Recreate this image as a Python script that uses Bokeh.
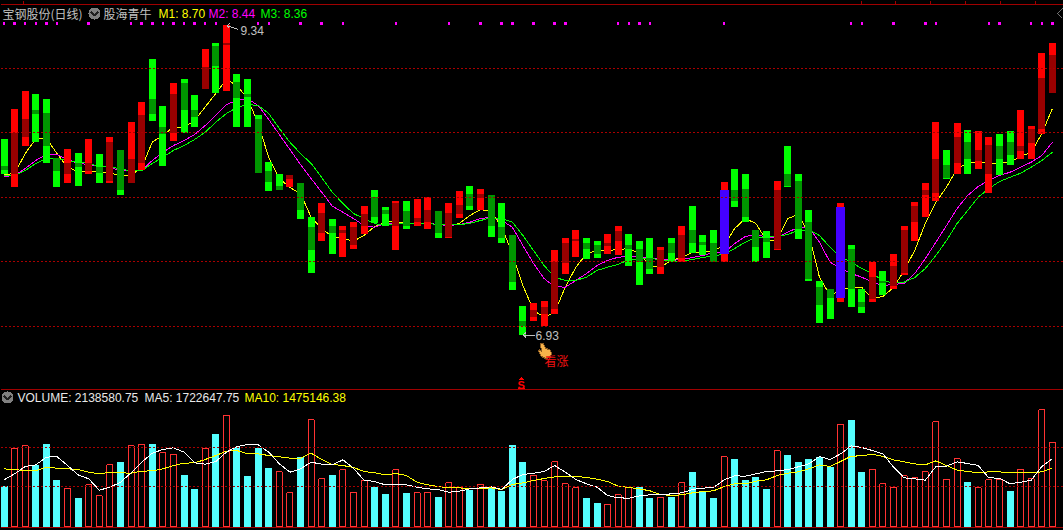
from bokeh.embed import file_html
from bokeh.resources import INLINE
from bokeh.plotting import figure
from bokeh.layouts import column
from bokeh.models import Range1d, Span, Label, ColumnDataSource

# ---------- data ----------
bar_kind = list("GRRGGGRGRG" "RGRRGGRGGR" "GRGGGGGRGG" "RGRRRGGRGR" "RGRRGRGGGG"
                "RRRRRGGRRG" "GGRGRGGGBG" "GGGRGGGGGB" "GGRGRRRRRG" "RGRRGGRRRR")
vol_kind = list("CHHCCCHCHH" "HCHHCHHCCH" "CHCCCCHHCH" "HCHHHCCHCH" "HCHHCHCCCC"
                "HHHHHCCHHH" "CCHCHCCCHC" "CCCHCCCCCH" "CCHHHHHHHH" "HCHHHCHHHH")

bar_top = [8.449,8.689,8.821,8.798,8.759,8.309,8.379,8.348,8.449,8.333,
           8.472,8.364,8.581,8.743,9.069,8.705,8.883,8.914,8.790,9.154,
           9.193,9.340,8.953,8.921,8.635,8.278,8.185,8.170,8.115,7.852,
           7.953,7.836,7.775,7.806,7.930,8.061,7.922,7.976,7.976,7.984,
           8.000,7.891,7.953,8.046,8.085,8.069,8.015,7.953,7.705,7.162,
           7.178,7.201,7.596,7.689,7.751,7.682,7.666,7.713,7.782,7.713,
           7.666,7.682,7.612,7.682,7.775,7.930,7.705,7.744,8.123,8.224,
           8.185,7.744,7.736,8.131,8.395,8.185,7.906,7.356,7.294,7.953,
           7.635,7.294,7.503,7.433,7.565,7.782,7.961,8.115,8.581,8.371,
           8.573,8.519,8.511,8.472,8.495,8.511,8.681,8.550,9.123,9.200]
band_top = [8.240,8.503,8.611,8.674,8.658,8.309,8.263,8.263,8.270,8.232,
            8.426,8.364,8.294,8.642,8.759,8.542,8.798,8.883,8.674,9.007,
            9.170,9.193,8.898,8.798,8.604,8.208,8.092,8.170,8.115,7.767,
            7.883,7.775,7.744,7.767,7.875,8.000,7.906,7.953,7.891,7.844,
            7.906,7.891,7.883,7.945,8.023,8.023,8.015,7.767,7.705,7.046,
            7.124,7.154,7.496,7.643,7.674,7.643,7.635,7.643,7.736,7.635,
            7.604,7.534,7.596,7.643,7.705,7.751,7.658,7.643,8.054,8.061,
            8.069,7.744,7.689,8.061,8.185,8.131,7.806,7.302,7.294,7.922,
            7.604,7.193,7.387,7.356,7.465,7.751,7.930,8.054,8.294,8.255,
            8.472,8.433,8.364,8.410,8.395,8.433,8.402,8.534,8.929,9.100]
band_bot = [8.216,8.185,8.472,8.650,8.395,8.201,8.185,8.232,8.201,8.193,
            8.131,8.061,8.115,8.263,8.650,8.495,8.503,8.681,8.627,8.844,
            9.022,9.185,8.774,8.782,8.193,8.123,8.054,8.146,7.899,7.589,
            7.728,7.728,7.728,7.635,7.775,7.852,7.875,7.775,7.775,7.813,
            7.806,7.728,7.697,7.875,7.937,7.992,7.775,7.682,7.348,7.000,
            7.077,7.100,7.139,7.488,7.666,7.604,7.565,7.627,7.666,7.604,
            7.496,7.449,7.457,7.573,7.534,7.643,7.635,7.503,7.565,7.976,
            7.852,7.612,7.658,7.604,8.085,7.759,7.364,7.170,7.224,7.224,
            7.294,7.154,7.209,7.333,7.317,7.418,7.806,8.015,8.038,8.154,
            8.263,8.294,8.286,8.185,8.294,8.325,8.356,8.418,8.534,8.813]
bar_bot = [8.185,8.077,8.402,8.426,8.270,8.077,8.115,8.092,8.185,8.115,
           8.108,8.015,8.115,8.216,8.596,8.247,8.441,8.503,8.542,8.844,
           8.813,8.821,8.542,8.542,8.193,8.046,8.054,8.077,7.836,7.418,
           7.666,7.565,7.542,7.604,7.713,7.798,7.775,7.589,7.759,7.782,
           7.759,7.682,7.682,7.844,7.906,7.899,7.697,7.643,7.279,6.930,
           7.046,7.007,7.100,7.403,7.542,7.526,7.534,7.565,7.557,7.472,
           7.325,7.403,7.403,7.496,7.503,7.573,7.557,7.503,7.503,7.922,
           7.806,7.496,7.534,7.589,8.077,7.674,7.356,7.023,7.054,7.186,
           7.147,7.108,7.186,7.240,7.294,7.395,7.666,7.852,7.976,8.146,
           8.185,8.185,8.224,8.038,8.177,8.255,8.294,8.294,8.495,8.813]

m1 = [8.177,8.185,8.340,8.453,8.457,8.340,8.232,8.201,8.197,8.201,
      8.189,8.170,8.170,8.232,8.429,8.480,8.546,8.542,8.596,8.701,
      8.805,8.914,8.867,8.766,8.573,8.309,8.146,8.077,8.030,7.847,
      7.759,7.697,7.682,7.661,7.705,7.775,7.808,7.813,7.798,7.798,
      7.798,7.790,7.782,7.798,7.860,7.906,7.891,7.769,7.565,7.317,
      7.124,7.072,7.110,7.304,7.459,7.563,7.589,7.589,7.596,7.604,
      7.565,7.472,7.459,7.511,7.534,7.575,7.575,7.589,7.627,7.759,
      7.836,7.798,7.666,7.666,7.836,7.868,7.720,7.382,7.240,7.279,
      7.304,7.302,7.217,7.232,7.302,7.434,7.589,7.798,7.963,8.079,
      8.224,8.263,8.278,8.265,8.263,8.273,8.317,8.350,8.495,8.689]
m2 = [8.162,8.170,8.224,8.286,8.333,8.333,8.294,8.263,8.255,8.242,
      8.234,8.203,8.208,8.208,8.286,8.350,8.402,8.441,8.487,8.557,
      8.635,8.720,8.751,8.766,8.712,8.604,8.487,8.371,8.255,8.146,
      8.040,7.932,7.885,7.836,7.782,7.769,7.798,7.798,7.795,7.798,
      7.800,7.790,7.782,7.790,7.808,7.836,7.847,7.821,7.769,7.627,
      7.488,7.371,7.309,7.304,7.356,7.410,7.472,7.511,7.537,7.542,
      7.542,7.526,7.526,7.511,7.519,7.534,7.550,7.573,7.573,7.643,
      7.697,7.713,7.692,7.692,7.730,7.767,7.767,7.653,7.498,7.449,
      7.410,7.382,7.343,7.317,7.325,7.335,7.410,7.526,7.653,7.782,
      7.914,8.015,8.085,8.131,8.170,8.195,8.234,8.273,8.325,8.428]
m3 = [8.170,8.170,8.208,8.263,8.301,8.301,8.286,8.273,8.263,8.240,
      8.234,8.224,8.203,8.208,8.263,8.312,8.364,8.402,8.449,8.505,
      8.583,8.650,8.697,8.720,8.712,8.650,8.534,8.428,8.340,8.263,
      8.154,8.040,7.953,7.875,7.836,7.798,7.782,7.798,7.798,7.798,
      7.798,7.790,7.790,7.788,7.800,7.821,7.842,7.836,7.808,7.705,
      7.589,7.472,7.382,7.356,7.356,7.382,7.434,7.459,7.480,7.519,
      7.524,7.526,7.519,7.506,7.506,7.519,7.534,7.550,7.557,7.604,
      7.653,7.689,7.692,7.697,7.713,7.744,7.749,7.705,7.614,7.537,
      7.498,7.449,7.410,7.356,7.335,7.343,7.379,7.449,7.550,7.666,
      7.798,7.899,8.002,8.069,8.123,8.156,8.188,8.234,8.286,8.350]

flag_days = [0,1,2,3,4,5,8,12,13,14,15,16,17,18,19,20,24,25,28,30,32,37,42,45,47,48,
             50,52,53,58,59,60,61,68,80,81,84,87,88,93,94,97,98,99]
price_grid = [7.0, 7.5, 8.0, 8.5, 9.0]

# volumes, in millions of shares
volume = [1.033,1.973,2.050,1.563,2.110,1.187,0.947,0.700,1.050,0.768,
          1.563,1.623,2.050,2.076,2.110,1.870,1.819,1.315,0.956,1.982,
          2.341,2.819,2.033,1.289,1.982,1.494,1.383,0.845,1.776,2.717,
          1.204,1.315,1.435,0.845,1.153,1.007,0.828,1.435,0.853,0.845,
          0.845,0.751,1.101,0.973,0.922,1.050,0.973,0.905,2.059,1.623,
          1.281,1.153,1.640,1.076,0.973,0.700,0.597,0.537,0.794,0.982,
          0.982,0.700,0.717,0.751,1.101,1.392,0.905,0.725,1.768,1.700,
          1.187,1.264,0.956,1.922,1.828,1.623,1.700,1.776,1.520,2.588,
          2.725,1.392,1.435,1.076,0.973,1.281,1.229,1.383,2.665,1.178,
          1.717,1.135,0.973,1.178,1.178,0.905,1.435,1.204,2.973,2.139]
ma5 = [1.178,1.332,1.520,1.563,1.759,1.776,1.546,1.306,1.204,0.913,
       0.990,1.118,1.358,1.631,1.862,1.956,1.999,1.888,1.614,1.580,
       1.648,1.888,2.033,2.084,2.076,1.888,1.588,1.375,1.460,1.631,
       1.580,1.563,1.691,1.477,1.170,1.135,1.050,1.050,1.050,0.990,
       0.947,0.930,0.862,0.888,0.947,0.973,0.999,0.930,1.187,1.315,
       1.349,1.392,1.546,1.375,1.187,1.076,0.990,0.776,0.717,0.708,
       0.768,0.794,0.794,0.819,0.845,0.930,0.965,0.982,1.178,1.281,
       1.272,1.332,1.392,1.409,1.443,1.512,1.588,1.776,1.700,1.845,
       2.050,2.007,1.930,1.845,1.503,1.229,1.204,1.170,1.520,1.529,
       1.640,1.597,1.546,1.229,1.221,1.076,1.118,1.170,1.520,1.723]
ma10 = [1.460,1.443,1.409,1.409,1.503,1.477,1.460,1.443,1.375,1.332,
        1.375,1.358,1.349,1.400,1.409,1.460,1.546,1.606,1.614,1.700,
        1.802,1.913,1.930,1.845,1.845,1.802,1.768,1.734,1.734,1.862,
        1.700,1.571,1.546,1.494,1.392,1.358,1.306,1.341,1.289,1.118,
        1.050,1.007,0.973,0.973,0.947,0.956,0.973,0.930,1.059,1.101,
        1.161,1.212,1.255,1.255,1.272,1.238,1.195,1.135,1.016,0.982,
        0.947,0.896,0.802,0.776,0.794,0.845,0.879,0.896,1.007,1.076,
        1.076,1.144,1.178,1.289,1.349,1.383,1.460,1.563,1.520,1.648,
        1.785,1.794,1.836,1.776,1.691,1.640,1.588,1.563,1.665,1.546,
        1.426,1.392,1.358,1.383,1.383,1.358,1.375,1.358,1.383,1.475]
volume_grid = [1.0, 2.0]

# ---------- layout ----------
W, H1, H2 = 1063, 390, 140
STEP, X0 = 10.59, 3.5
XR = Range1d(-X0 / STEP, (W - X0) / STEP)
days = list(range(len(bar_top)))

BG = "#000000"
RED, DRED = "#ff0000", "#990000"
GRN, DGRN = "#00ff00", "#009600"
BLUE = "#4400ff"
GRID = "#a80000"
FRAME = "#a00000"
GRAY = "#c0c0c0"
CJK = "Noto Sans CJK SC"
LATIN = "Liberation Sans"


def fig(h, yr):
    f = figure(width=W, height=h, x_range=XR, y_range=yr, output_backend="svg",
               toolbar_location=None, min_border=0, x_axis_location=None,
               y_axis_location=None, background_fill_color=BG, border_fill_color=BG,
               outline_line_color=None)
    f.grid.visible = False
    return f


p = fig(H1, Range1d(6.5035, 9.526))
v = fig(H2, Range1d(-0.1205, 3.469))


def xd(px):
    return (px - X0) / STEP


def yp(py):
    return 9.526 - 0.00775 * py


def label(f, h, x, y, text, color, font=LATIN, size="12px", style="normal"):
    f.add_layout(Label(x=x, y=h - y, x_units="screen", y_units="screen", text=text,
                       text_color=color, text_font=font, text_font_size=size,
                       text_baseline="middle", text_font_style=style))


# ---------- price pane ----------
for g in price_grid:
    p.add_layout(Span(location=g, dimension="width", line_color=GRID, line_width=1,
                      line_dash="2 2"))
p.line(days, m1, line_color="#ffff00", line_width=1)
p.line(days, m2, line_color="#ff00ff", line_width=1)
p.line(days, m3, line_color=GRN, line_width=1)

bright = [{"G": GRN}.get(k, RED) for k in bar_kind]
dark = [{"G": DGRN, "R": DRED}.get(k, BLUE) for k in bar_kind]
band_w = [9 / STEP if k == "B" else 7 / STEP for k in bar_kind]
src = ColumnDataSource(dict(x=days, t=bar_top, b=bar_bot, bt=band_top, bb=band_bot,
                            c=bright, d=dark, w=band_w))
p.vbar(x="x", top="t", bottom="b", width=7 / STEP, fill_color="c", line_color=None, source=src)
p.vbar(x="x", top="bt", bottom="bb", width="w", fill_color="d", line_color=None, source=src)

p.scatter(flag_days, [yp(23)] * len(flag_days), marker="square", size=2.5,
          fill_color="#ff00ff", line_color=None)

# frame furniture
p.add_layout(Span(location=yp(3.5), dimension="width", line_color=FRAME, line_width=1))
p.add_layout(Span(location=yp(389), dimension="width", line_color=FRAME, line_width=1))
for t in [22.5, 860.5, 894.5, 929.5, 964.5, 999.5, 1034.5]:
    p.segment(xd(t), yp(0), xd(t), yp(3.5), line_color=FRAME, line_width=1)
p.line([xd(1062), xd(1057), xd(1062)], [yp(8), yp(13), yp(18)], line_color="#707070", line_width=1)

# header
label(p, H1, 2, 13, "宝钢股份(日线)", GRAY, CJK)
p.scatter([xd(94)], [yp(13)], size=12, fill_color="#808080", line_color=None)
p.line([xd(90.5), xd(94), xd(97.5)], [yp(11.5), yp(15), yp(11.5)], line_color="#202020", line_width=2)
label(p, H1, 103, 13, "股海青牛", GRAY, CJK)
label(p, H1, 158, 13, "M1: 8.70", "#ffff00")
label(p, H1, 208, 13, "M2: 8.44", "#ff00ff")
label(p, H1, 260, 13, "M3: 8.36", GRN)

# high / low marks
label(p, H1, 240, 30, "9.34", GRAY)
p.line([xd(227), xd(238)], [yp(25.5), yp(29)], line_color=GRAY, line_width=1)
p.line([xd(229), xd(226.5), xd(229)], [yp(23), yp(25.5), yp(28)], line_color=GRAY, line_width=1)
label(p, H1, 535, 335, "6.93", GRAY)
p.line([xd(523), xd(534)], [yp(334.5), yp(334.5)], line_color=GRAY, line_width=1)
p.line([xd(525.5), xd(522.5), xd(525.5)], [yp(332), yp(334.5), yp(337)], line_color=GRAY, line_width=1)

# pointing hand
hand_x = [540, 543, 545, 549, 551, 550, 545, 541, 538, 539, 541]
hand_y = [343, 343, 348, 349, 352, 357, 358, 356, 351, 349, 351]
p.patch([xd(a) for a in hand_x], [yp(b) for b in hand_y], fill_color="#f6b24a",
        line_color="#8a5a20", line_width=1)
label(p, H1, 544, 360, "看涨", "#ee1111", CJK)

# sell mark
p.patch([xd(518.5), xd(521), xd(523.5)], [yp(379), yp(376.5), yp(379)], fill_color=RED, line_color=None)
label(p, H1, 517, 384, "S", RED, LATIN, "11px", "bold")
p.line([xd(517.5), xd(524.5)], [yp(388), yp(388)], line_color=RED, line_width=1)

# ---------- volume pane ----------
for g in volume_grid:
    v.add_layout(Span(location=g, dimension="width", line_color=GRID, line_width=1, line_dash="2 2"))
floor = -0.018
solid = [i for i, k in enumerate(vol_kind) if k == "C"]
hollow = [i for i, k in enumerate(vol_kind) if k == "H"]
v.vbar(solid, top=[volume[i] for i in solid], bottom=floor, width=7 / STEP,
       fill_color="#54ffff", line_color=None)
v.vbar(hollow, top=[volume[i] for i in hollow], bottom=floor, width=6 / STEP,
       fill_color=BG, line_color="#ff3232", line_width=1)
v.line(days, ma10, line_color="#ffff00", line_width=1)
v.line(days, ma5, line_color="#ffffff", line_width=1)
v.add_layout(Span(location=-0.05, dimension="width", line_color=FRAME, line_width=1))


def yv(py):
    return (525.3 - py) / 39


v.scatter([xd(7)], [yv(397)], size=12, fill_color="#808080", line_color=None)
v.line([xd(3.5), xd(7), xd(10.5)], [yv(395.5), yv(399), yv(395.5)], line_color="#202020", line_width=2)
label(v, H2, 17, 7, "VOLUME: 2138580.75", "#e8e8e8")
label(v, H2, 144, 7, "MA5: 1722647.75", "#e8e8e8")
label(v, H2, 244, 7, "MA10: 1475146.38", "#ffff00")

page = column(p, v, spacing=0)
html = file_html(page, INLINE)
html = html.replace("</head>", "<style>html,body{margin:0;padding:0;background:#000;"
                    "overflow:hidden;shape-rendering:crispEdges}</style></head>", 1)
open("out.html", "w").write(html)
